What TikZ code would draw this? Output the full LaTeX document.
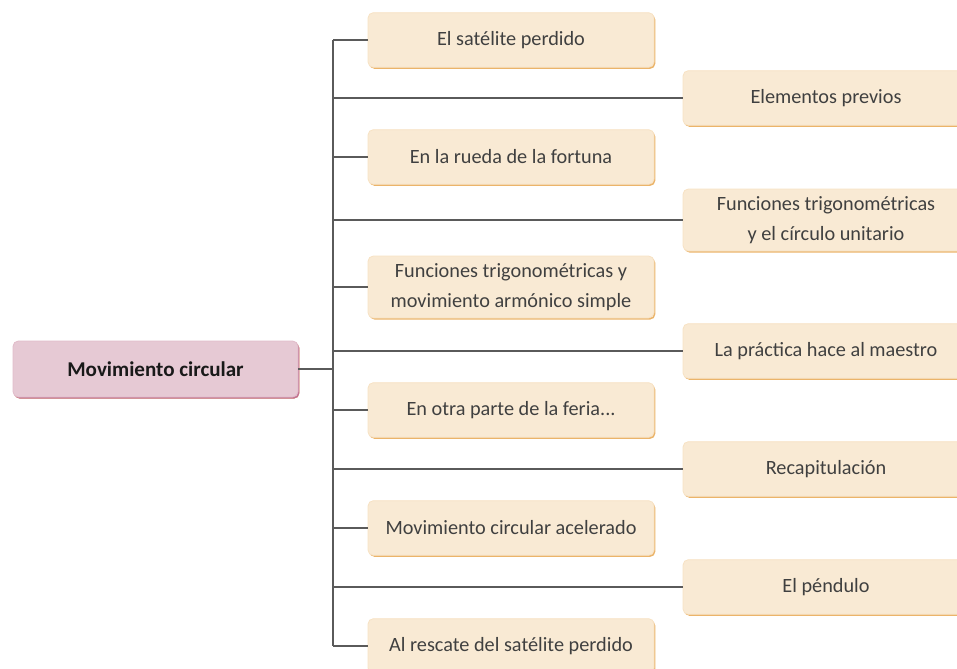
\documentclass[tikz,border=0pt]{standalone}
\usepackage{fontspec}
\setmainfont{Carlito}
\usetikzlibrary{positioning}
\usetikzlibrary{shadows}

\definecolor{boxFill}{HTML}{F9EAD4}
\definecolor{boxEdge}{HTML}{EBB46A}
\definecolor{rootFill}{HTML}{E6C9D4}
\definecolor{rootEdge}{HTML}{C27393}
\definecolor{lineGray}{HTML}{5A5A5A}

\begin{document}
\begin{tikzpicture}[
    x=0.75pt, y=-0.75pt, % one unit is one pixel of the reference
    line width=1.3pt,
    % Styling for the nodes
    topicNode/.style={
        rectangle,
        rounded corners=4pt,
        fill=boxFill,
        draw=boxFill!85!boxEdge,
        line width=0.6pt,
        drop shadow={shadow xshift=1pt, shadow yshift=-1.2pt, fill=boxEdge, opacity=1},
        minimum width=214.5pt,
        minimum height=41pt,
        inner sep=2pt,
        align=center,
        text=black!75,
        font=\fontsize{15.2}{22.5}\selectfont
    },
    twoLine/.style={minimum height=46.5pt},
    rootNode/.style={
        topicNode,
        fill=rootFill,
        draw=rootFill!85!rootEdge,
        drop shadow={shadow xshift=1pt, shadow yshift=-1.2pt, fill=rootEdge, opacity=1},
        minimum width=213.75pt,
        minimum height=42pt,
        text=black!90,
        font=\fontsize{15.8}{18}\selectfont\bfseries
    },
    branch/.style={draw=lineGray}
]
    \useasboundingbox (0,0) rectangle (957,668);

    % Define Nodes
    \node[rootNode] (root) at (155.5,369) {Movimiento circular};

    \node[topicNode] (L1) at (511,40) {El satélite perdido};
    \node[topicNode] (L2) at (511,157) {En la rueda de la fortuna};
    \node[topicNode, twoLine] (L3) at (511,287) {Funciones trigonométricas y\\movimiento armónico simple};
    \node[topicNode] (L4) at (511,410) {En otra parte de la feria...};
    \node[topicNode] (L5) at (511,528) {Movimiento circular acelerado};
    \node[topicNode] (L6) at (511,646) {Al rescate del satélite perdido};

    \node[topicNode] (R1) at (826,98) {Elementos previos};
    \node[topicNode, twoLine] (R2) at (826,220) {Funciones trigonométricas\\y el círculo unitario};
    \node[topicNode] (R3) at (826,351) {La práctica hace al maestro};
    \node[topicNode] (R4) at (826,469) {Recapitulación};
    \node[topicNode] (R5) at (826,587) {El péndulo};

    % Trunk
    \coordinate (tTop) at (333,40);
    \coordinate (tBot) at (333,646);

    % Draw Edges
    \draw[branch] (tTop) -- (tBot);
    \draw[branch] (root.east) -- (root.east -| tTop);
    \foreach \n in {L1,L2,L3,L4,L5,L6,R1,R2,R3,R4,R5}
        \draw[branch] (\n.west) -- (\n.west -| tTop);

\end{tikzpicture}
\end{document}
